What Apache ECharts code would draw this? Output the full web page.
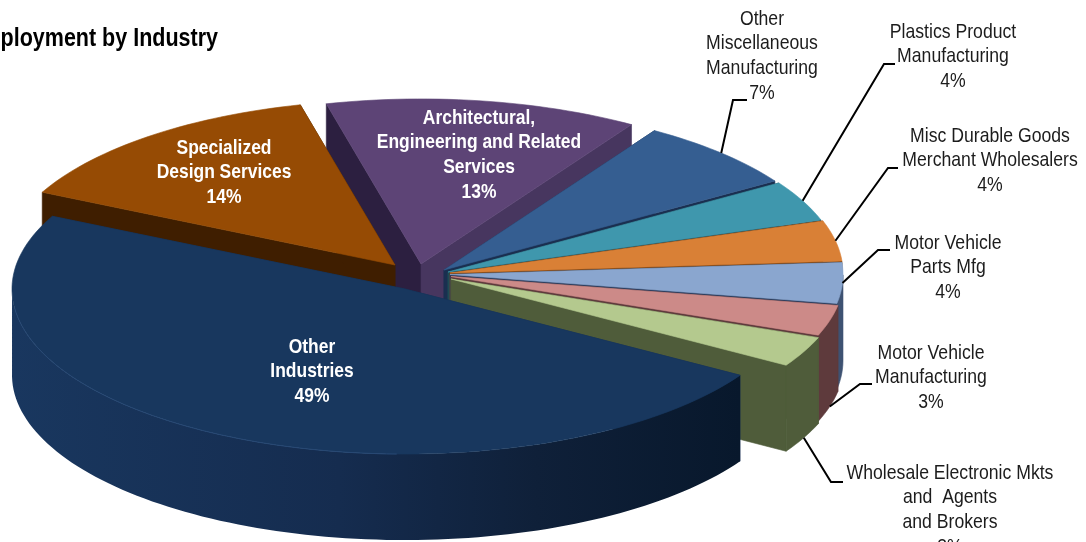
<!DOCTYPE html>
<html>
<head>
<meta charset="utf-8">
<style>html,body{margin:0;padding:0;background:#fff;overflow:hidden}#chart{width:1086px;height:542px}</style>
<script src="https://cdn.jsdelivr.net/npm/echarts@6/dist/echarts.min.js"></script>
</head>
<body>
<div id="chart"></div>
<script>
// Employment shares, clockwise from the front-right edge of the largest slice.
const industries = [
  'Other Industries', 'Specialized Design Services',
  'Architectural, Engineering and Related Services',
  'Other Miscellaneous Manufacturing', 'Plastics Product Manufacturing',
  'Misc Durable Goods Merchant Wholesalers', 'Motor Vehicle Parts Mfg',
  'Motor Vehicle Manufacturing', 'Wholesale Electronic Mkts and Agents and Brokers'
];
const shares = [49, 14, 13, 7, 4, 4, 4, 3, 3];

// Label text, line by line.
const labelLines = [
  ['Other', 'Industries', '49%'],
  ['Specialized', 'Design Services', '14%'],
  ['Architectural,', 'Engineering and Related', 'Services', '13%'],
  ['Other', 'Miscellaneous', 'Manufacturing', '7%'],
  ['Plastics Product', 'Manufacturing', '4%'],
  ['Misc Durable Goods', 'Merchant Wholesalers', '4%'],
  ['Motor Vehicle', 'Parts Mfg', '4%'],
  ['Motor Vehicle', 'Manufacturing', '3%'],
  ['Wholesale Electronic Mkts', 'and  Agents', 'and Brokers', '3%']
];

// Disc projection.
const DISC_RADIUS = 393, SQUASH = 0.42, WALL = 86, START_DEG = 31.5;

// Where each slice's apex sits once pulled out of the pie.
const apexX = [405, 395, 421, 444, 448, 450, 450, 451, 451];
const apexY = [289, 265, 264, 270, 272, 273, 274.5, 276.5, 279];

const topColors = ['#18375e', '#964b04', '#5d4476', '#355e91', '#3f97ad', '#d98036', '#8aa6cf', '#cc8a88', '#b4c98e'];
// Colours of the cut face on the slice's leading edge, its trailing edge, and its rim.
const leadWallColors = ['#152e52', '#3f1e00', '#2c1f40', '#1a2f50', '#1f4a55', '#6e3d12', '#3e5272', '#5e3a3c', '#4f5c3a'];
const trailWallColors = ['#152e52', '#3f1e00', '#47365f', '#1a2f50', '#1f4a55', '#6e3d12', '#2b3c5c', '#5e3a3c', '#4f5c3a'];
const rimWallColors = ['#152e52', '#3f1e00', '#47365f', '#1a2f50', '#2a5f6e', '#6e3d12', '#3e5272', '#5e3a3c', '#4f5c3a'];

// Back slices are painted first so nearer ones overlap them.
const paintOrder = [2, 1, 3, 4, 5, 6, 7, 8, 0];

// Label anchors: centre x, first-line centre y; elbow points of the leader lines.
const labelX = [312, 224, 479, 762, 953, 990, 948, 931, 950];
const labelY = [347, 148, 118, 19, 32, 136, 243, 353, 473];
const lineStep = 24.7;
const leaderElbows = [null, null, null, [733, 100, 747], [884, 64, 895], [888, 168, 898], [878, 250, 890], [860, 384, 872], [831, 482, 843]];
const leaderOnWall = [false, false, false, false, false, false, false, true, true];

const FONT = '"Liberation Sans", Arial, sans-serif';
const TEXT_NARROW = 0.84, BOLD_NARROW = 0.83;

const total = shares.reduce((a, b) => a + b, 0);
const startAngles = [];
shares.reduce((acc, v, i) => { startAngles[i] = acc; return acc + v / total * 360; }, START_DEG);

function rimPoint(i, deg) {
  const r = deg * Math.PI / 180;
  return [apexX[i] + DISC_RADIUS * Math.cos(r), apexY[i] + DISC_RADIUS * SQUASH * Math.sin(r)];
}
function rimAngles(i) {
  const a0 = startAngles[i], a1 = a0 + shares[i] / total * 360, out = [];
  const n = Math.ceil((a1 - a0) / 1.5);
  for (let k = 0; k <= n; k++) out.push(a0 + (a1 - a0) * k / n);
  return out;
}
const drop = p => [p[0], p[1] + WALL];
const solid = c => ({ fill: c, stroke: c, lineWidth: 0.6 });

function renderSlice(params, api) {
  const i = api.value(1), apex = [apexX[i], apexY[i]];
  const angles = rimAngles(i);
  const arc = angles.map(a => rimPoint(i, a));
  const first = arc[0], last = arc[arc.length - 1];
  const front = angles.filter(a => { const m = ((a % 360) + 360) % 360; return m <= 180; }).map(a => rimPoint(i, a));
  const children = [
    { type: 'polygon', shape: { points: [apex, first, drop(first), drop(apex)] }, style: solid(leadWallColors[i]) },
    { type: 'polygon', shape: { points: [apex, last, drop(last), drop(apex)] }, style: solid(trailWallColors[i]) }
  ];
  if (front.length > 1) {
    const rimFill = i === 0
      ? { type: 'linear', x: 0, y: 0, x2: 1, y2: 0, colorStops: [
          { offset: 0, color: '#08182c' }, { offset: 0.28, color: '#0f2039' },
          { offset: 0.55, color: '#152c4f' }, { offset: 1, color: '#19375f' } ] }
      : rimWallColors[i];
    const rimStyle = i === 0 ? { fill: { ...rimFill, x: 1, x2: 0 } } : solid(rimFill);
    children.push({ type: 'polygon', shape: { points: front.concat(front.map(drop).reverse()) }, style: rimStyle });
  }
  children.push({ type: 'polygon', shape: { points: [apex].concat(arc) }, style: solid(topColors[i]) });
  if (i === 0) {
    // faint highlight where the top face meets the rim
    children.push({ type: 'polyline', shape: { points: arc.slice(40, 96) },
      style: { fill: null, stroke: '#274874', lineWidth: 1 } });
  }
  return { type: 'group', children };
}

function renderLeader(params, api) {
  const i = api.value(0), elbow = leaderElbows[i];
  const mid = startAngles[i] + shares[i] / total * 180;
  let from = rimPoint(i, mid);
  if (leaderOnWall[i]) from = drop(from);
  return { type: 'polyline', shape: { points: [from, [elbow[0], elbow[1]], [elbow[2], elbow[1]]] },
           style: { fill: null, stroke: '#000', lineWidth: 2 } };
}

function renderLabel(params, api) {
  const i = api.value(0), inside = i < 3;
  return { type: 'group', children: labelLines[i].map((t, k) => ({
    type: 'text', x: labelX[i], y: labelY[i] + k * lineStep,
    scaleX: inside ? BOLD_NARROW : TEXT_NARROW,
    style: { text: t, align: 'center', verticalAlign: 'middle', fill: inside ? '#fff' : '#1c1c1c',
             font: (inside ? 'bold ' : '') + '21px ' + FONT }
  })) };
}

const chart = echarts.init(document.getElementById('chart'), null, { renderer: 'canvas' });
chart.setOption({
  animation: false,
  backgroundColor: '#fff',
  graphic: [{
    type: 'text', x: 218, y: 39, scaleX: 0.86, silent: true,
    style: { text: 'Employment by Industry', align: 'right', verticalAlign: 'middle',
             fill: '#000', font: 'bold 25px ' + FONT }
  }],
  series: [
    { type: 'custom', coordinateSystem: 'none', silent: true, renderItem: renderSlice,
      data: paintOrder.map(i => [shares[i], i]), encode: { value: 0 } },
    { type: 'custom', coordinateSystem: 'none', silent: true, renderItem: renderLeader,
      data: [3, 4, 5, 6, 7, 8].map(i => [i]), z: 3 },
    { type: 'custom', coordinateSystem: 'none', silent: true, renderItem: renderLabel,
      data: labelLines.map((_, i) => [i]), z: 4 }
  ]
});
</script>
</body>
</html>
